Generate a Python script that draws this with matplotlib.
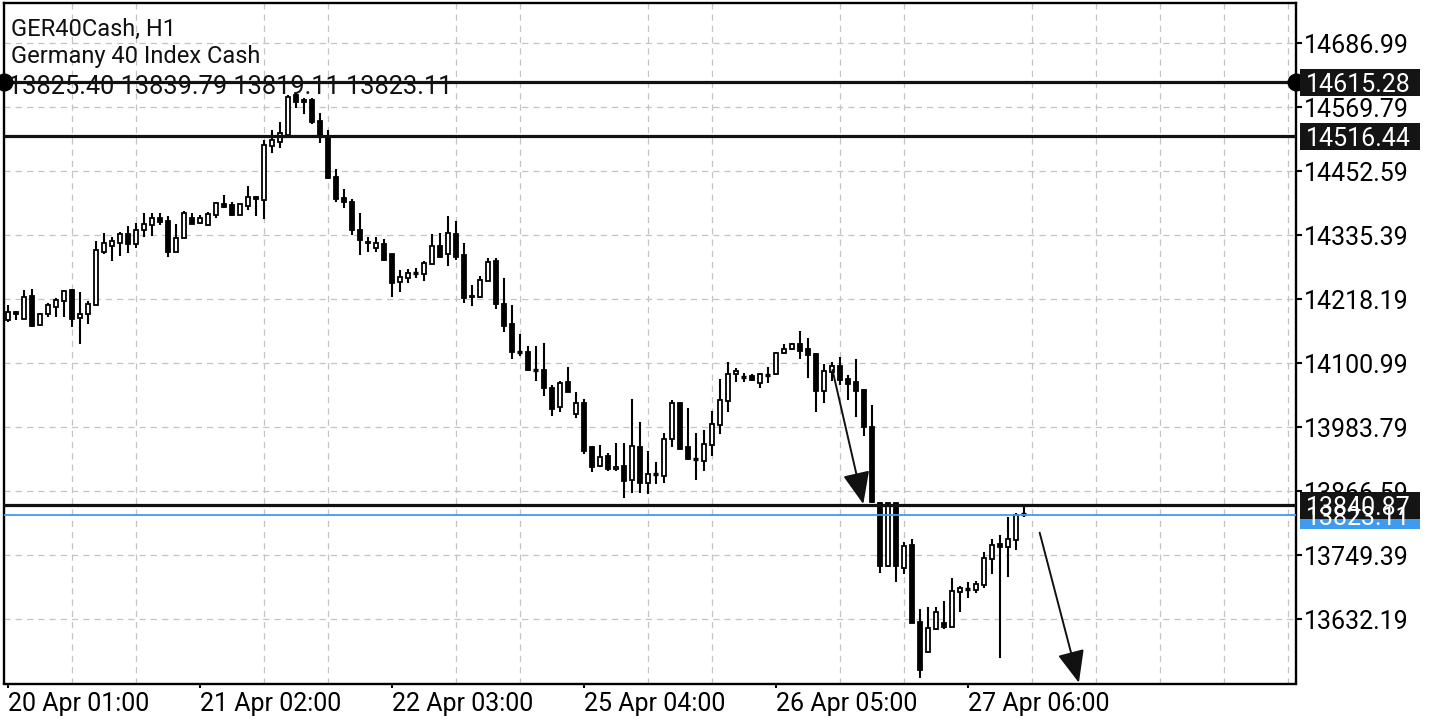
import matplotlib
matplotlib.use("Agg")
import matplotlib.pyplot as plt
from matplotlib.patches import Rectangle, FancyArrowPatch
from matplotlib import transforms

plt.rcParams['font.family'] = ['Roboto', 'DejaVu Sans']

# hourly candles, GER40Cash H1
opens = [14180, 14195, 14183, 14225, 14171, 14192, 14205, 14215, 14235, 14184,
         14191, 14208, 14304, 14316, 14322, 14337, 14319, 14345, 14354, 14368,
         14362, 14305, 14331, 14368, 14358, 14354, 14373, 14393, 14391, 14373,
         14389, 14406, 14400, 14499, 14506, 14519, 14592, 14583, 14583, 14545,
         14516, 14443, 14404, 14397, 14345, 14324, 14313, 14319, 14301, 14250,
         14257, 14265, 14265, 14283, 14315, 14301, 14338, 14299, 14222, 14222,
         14252, 14288, 14209, 14173, 14121, 14121, 14088, 14089, 14056, 14021,
         14067, 14008, 14029, 13947, 13913, 13932, 13908, 13913, 13888, 13948,
         13881, 13898, 13895, 13962, 14029, 13948, 13926, 13922, 13951, 13988,
         14032, 14081, 14077, 14078, 14065, 14080, 14081, 14119, 14128, 14136,
         14127, 14118, 14051, 14085, 14096, 14073, 14066, 14053, 13984, 13845,
         13729, 13845, 13727, 13768, 13628, 13572, 13614, 13625, 13619, 13683,
         13689, 13685, 13695, 13742, 13770, 13764, 13777, 13825.40]
highs = [14208, 14196, 14235, 14237, 14194, 14211, 14220, 14236, 14238, 14231,
         14216, 14325, 14339, 14332, 14342, 14353, 14358, 14376, 14376, 14377,
         14370, 14356, 14380, 14376, 14373, 14378, 14397, 14409, 14396, 14393,
         14426, 14407, 14510, 14529, 14542, 14592, 14597, 14586, 14586, 14559,
         14529, 14456, 14421, 14402, 14376, 14332, 14333, 14328, 14302, 14272,
         14274, 14276, 14288, 14338, 14339, 14371, 14362, 14321, 14244, 14261,
         14293, 14293, 14258, 14208, 14155, 14133, 14133, 14139, 14061, 14069,
         14095, 14049, 14036, 13950, 13951, 13937, 13956, 13956, 14036, 13994,
         13940, 13921, 13974, 14033, 14030, 14020, 13974, 13979, 14014, 14072,
         14103, 14093, 14083, 14081, 14083, 14095, 14122, 14136, 14139, 14160,
         14147, 14119, 14099, 14104, 14112, 14080, 14108, 14054, 14025, 13847,
         13845, 13846, 13774, 13779, 13652, 13655, 13654, 13666, 13707, 13693,
         13701, 13703, 13756, 13779, 13787, 13820, 13827, 13839.79]
lows = [14177, 14180, 14182, 14168, 14169, 14185, 14186, 14185, 14168, 14136,
        14173, 14206, 14302, 14289, 14297, 14303, 14313, 14332, 14335, 14354,
        14295, 14304, 14330, 14356, 14357, 14353, 14367, 14386, 14371, 14372,
        14382, 14371, 14365, 14487, 14495, 14518, 14568, 14557, 14539, 14505,
        14439, 14397, 14386, 14336, 14299, 14304, 14305, 14289, 14223, 14232,
        14248, 14257, 14252, 14282, 14293, 14279, 14291, 14211, 14206, 14221,
        14251, 14200, 14158, 14109, 14114, 14087, 14069, 14042, 14005, 14012,
        14048, 14001, 13935, 13902, 13912, 13904, 13904, 13855, 13863, 13863,
        13861, 13880, 13882, 13947, 13943, 13924, 13888, 13904, 13931, 13971,
        14011, 14067, 14066, 14069, 14055, 14065, 14079, 14118, 14126, 14109,
        14075, 14012, 14028, 14069, 14061, 14034, 14002, 13968, 13846, 13717,
        13728, 13700, 13716, 13625, 13524, 13571, 13613, 13614, 13618, 13646,
        13671, 13680, 13689, 13716, 13561, 13710, 13759, 13819.11]
closes = [14195, 14191, 14223, 14170, 14191, 14208, 14217, 14233, 14183, 14191,
          14209, 14308, 14321, 14325, 14337, 14319, 14346, 14357, 14368, 14359,
          14305, 14330, 14376, 14357, 14367, 14374, 14394, 14388, 14373, 14392,
          14405, 14401, 14500, 14510, 14522, 14588, 14580, 14580, 14542, 14519,
          14440, 14401, 14397, 14345, 14327, 14321, 14321, 14290, 14248, 14259,
          14266, 14267, 14285, 14315, 14296, 14339, 14295, 14221, 14225, 14253,
          14286, 14209, 14170, 14121, 14123, 14088, 14090, 14056, 14017, 14065,
          14049, 14028, 13941, 13912, 13930, 13907, 13912, 13886, 13949, 13881,
          13899, 13900, 13962, 14029, 13944, 13925, 13924, 13954, 13989, 14034,
          14081, 14087, 14075, 14070, 14081, 14081, 14120, 14128, 14136, 14124,
          14116, 14051, 14087, 14096, 14070, 14063, 14051, 13984, 13847, 13729,
          13845, 13729, 13766, 13626, 13539, 13616, 13645, 13619, 13684, 13689,
          13687, 13696, 13744, 13768, 13764, 13779, 13823, 13823.11]

date_ticks = [0, 24, 48, 72, 96, 120]
date_labels = ["20 Apr 01:00", "21 Apr 02:00", "22 Apr 03:00",
               "25 Apr 04:00", "26 Apr 05:00", "27 Apr 06:00"]
price_ticks = [14686.99, 14569.79, 14452.59, 14335.39, 14218.19,
               14100.99, 13983.79, 13866.59, 13749.39, 13632.19]

levels = [14615.28, 14516.44, 13840.87]
bid = 13823.11
# hand-drawn arrows: (bar, price) start -> end
arrow1 = [(103.1, 14088.7), (106.95, 13843.3)]
arrow2 = [(129.0, 13790.8), (133.9, 13516.1)]

symbol = "GER40Cash, H1"
descr = "Germany 40 Index Cash"
blue = '#3f9bf0'

fig = plt.figure(figsize=(14.4, 7.2), dpi=100)
ax = fig.add_axes([4 / 1440, 36.5 / 720, 1292 / 1440, 680.5 / 720])
ax.set_xlim(-0.4625, 161.04)
ax.set_ylim(13514.7, 14760.8)

# grid
ax.set_axisbelow(True)
ax.set_xticks(range(0, 162, 8), minor=True)
ax.grid(which='minor', axis='x', color='#c4c4c4', ls=(0, (5, 4)), lw=0.9)
ax.grid(which='major', axis='y', color='#c4c4c4', ls=(0, (5, 4)), lw=0.9)

# candles
for i, (o, h, l, c) in enumerate(zip(opens, highs, lows, closes)):
    ax.vlines(i, l, h, color='black', lw=1.5, zorder=2)
    lo, hi = min(o, c), max(o, c)
    if hi - lo < 3:
        ax.hlines((o + c) / 2, i - 0.3, i + 0.3, color='black', lw=2.4, zorder=3)
    else:
        ax.add_patch(Rectangle((i - 0.27, lo), 0.54, hi - lo,
                               facecolor='white' if c > o else 'black',
                               edgecolor='black', lw=1.3, zorder=3))

# level lines
for v in levels:
    ax.axhline(v, color='#111111', lw=2.3, zorder=4)
ax.axhline(bid, color=blue, lw=1.3, zorder=4)
ax.plot([-0.4625, 161.04], [levels[0]] * 2, 'o', ms=12, color='black',
        clip_on=False, zorder=7)

# arrows
for a in (arrow1, arrow2):
    ax.add_patch(FancyArrowPatch(a[0], a[1], arrowstyle='-|>,head_length=1.0,head_width=0.42',
                                 mutation_scale=20, color='#111111', lw=1.4,
                                 shrinkA=0, shrinkB=0, zorder=5))

# axes look
for s in ax.spines.values():
    s.set_linewidth(1.7)
    s.set_color('black')
ax.yaxis.tick_right()
ax.set_yticks(price_ticks)
ax.set_yticklabels([f"{v:.2f}" for v in price_ticks])
ax.tick_params(axis='y', which='major', direction='out', length=4, width=1.5,
               pad=2, labelsize=18, colors='black')
ax.set_xticks(date_ticks)
ax.set_xticklabels(date_labels)
ax.tick_params(axis='x', which='major', direction='out', length=3, width=1.5,
               pad=3, labelsize=18, colors='black')
ax.tick_params(axis='x', which='minor', length=0)
for lbl in ax.get_xticklabels():
    lbl.set_ha('left')

# price tags on the right scale
ppp = (14760.8 - 13514.7) / 680.5
tr = transforms.blended_transform_factory(fig.transFigure, ax.transData)
tags = [(bid, blue)] + [(v, '#141414') for v in (levels[2], levels[1], levels[0])]
for v, col in tags:
    ax.add_patch(Rectangle((1300 / 1440, v - 13.5 * ppp), 120 / 1440, 27 * ppp,
                           transform=tr, facecolor=col, edgecolor='none',
                           clip_on=False, zorder=8))
    ax.text(1306 / 1440, v, f"{v:.2f}", transform=tr, color='white',
            fontsize=18, va='center_baseline', ha='left', clip_on=False, zorder=9)

# header text
fig.text(11 / 1440, 1 - 36 / 720, symbol, fontsize=17, va='baseline', color='#111111')
fig.text(11 / 1440, 1 - 63.5 / 720, descr, fontsize=17, va='baseline', color='#111111')
fig.text(8 / 1440, 1 - 94 / 720,
         f"{opens[-1]:.2f} {highs[-1]:.2f} {lows[-1]:.2f} {closes[-1]:.2f}",
         fontsize=18.3, va='baseline', color='#111111', zorder=10)

fig.savefig("out.png", dpi=100)
